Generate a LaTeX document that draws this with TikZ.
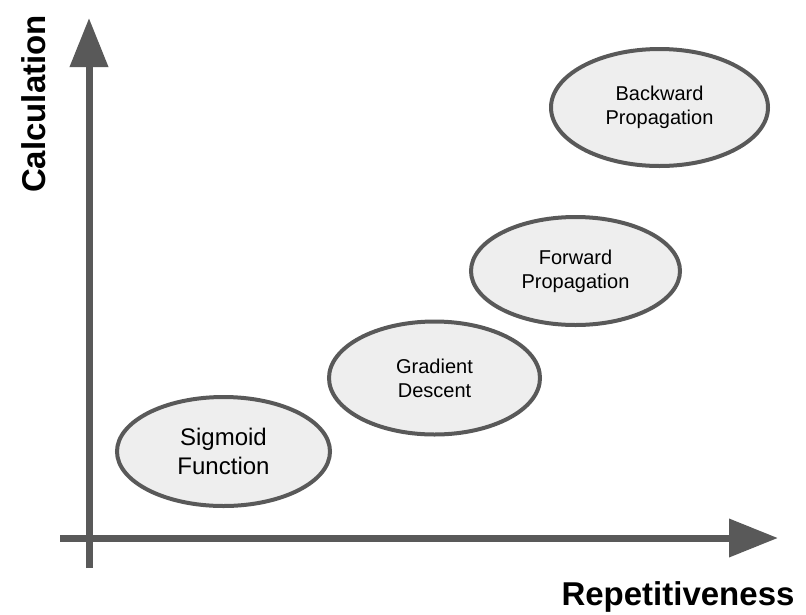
\documentclass[tikz,border=0pt]{standalone}
\usepackage{fontspec}
\setmainfont{Liberation Sans}
\usetikzlibrary{shapes.geometric,arrows.meta}
\definecolor{axisgray}{HTML}{595959}
\definecolor{blobfill}{HTML}{EEEEEE}

\begin{document}
\begin{tikzpicture}[x=1pt, y=-1pt,
  axis/.style={line width=7pt, axisgray, -{Triangle[length=49pt,width=37pt]}},
  blob/.style={ellipse, draw=axisgray, line width=4pt, fill=blobfill, align=center, inner sep=0pt},
  axislabel/.style={font=\fontsize{33}{40}\selectfont\bfseries, anchor=base}]
\useasboundingbox (0,0) rectangle (806,614);

% Axes
\coordinate (ytop) at (89,18);
\coordinate (ybot) at (89,568);
\coordinate (xleft) at (60,538);
\coordinate (xright) at (778,538);
\draw[axis] (ybot) -- (ytop);
\draw[axis] (xleft) -- (xright);

% Axis labels
\node[axislabel, rotate=90] (calc) at (45,104) {Calculation};
\node[axislabel] (rep) at (678,605) {Repetitiveness};

% Ellipses
\node[blob, minimum width=213pt, minimum height=109pt, font=\fontsize{24}{29}\selectfont] (sigmoid) at (223.5,451.5) {Sigmoid\\Function};
\node[blob, minimum width=211pt, minimum height=113pt, font=\fontsize{20}{24}\selectfont] (gradient) at (434.5,378) {Gradient\\Descent};
\node[blob, minimum width=209pt, minimum height=108pt, font=\fontsize{20}{24}\selectfont] (forward) at (575.5,271) {Forward\\Propagation};
\node[blob, minimum width=217pt, minimum height=117pt, font=\fontsize{20}{24}\selectfont] (backward) at (659.5,107.5) {Backward\\Propagation};
\end{tikzpicture}
\end{document}
